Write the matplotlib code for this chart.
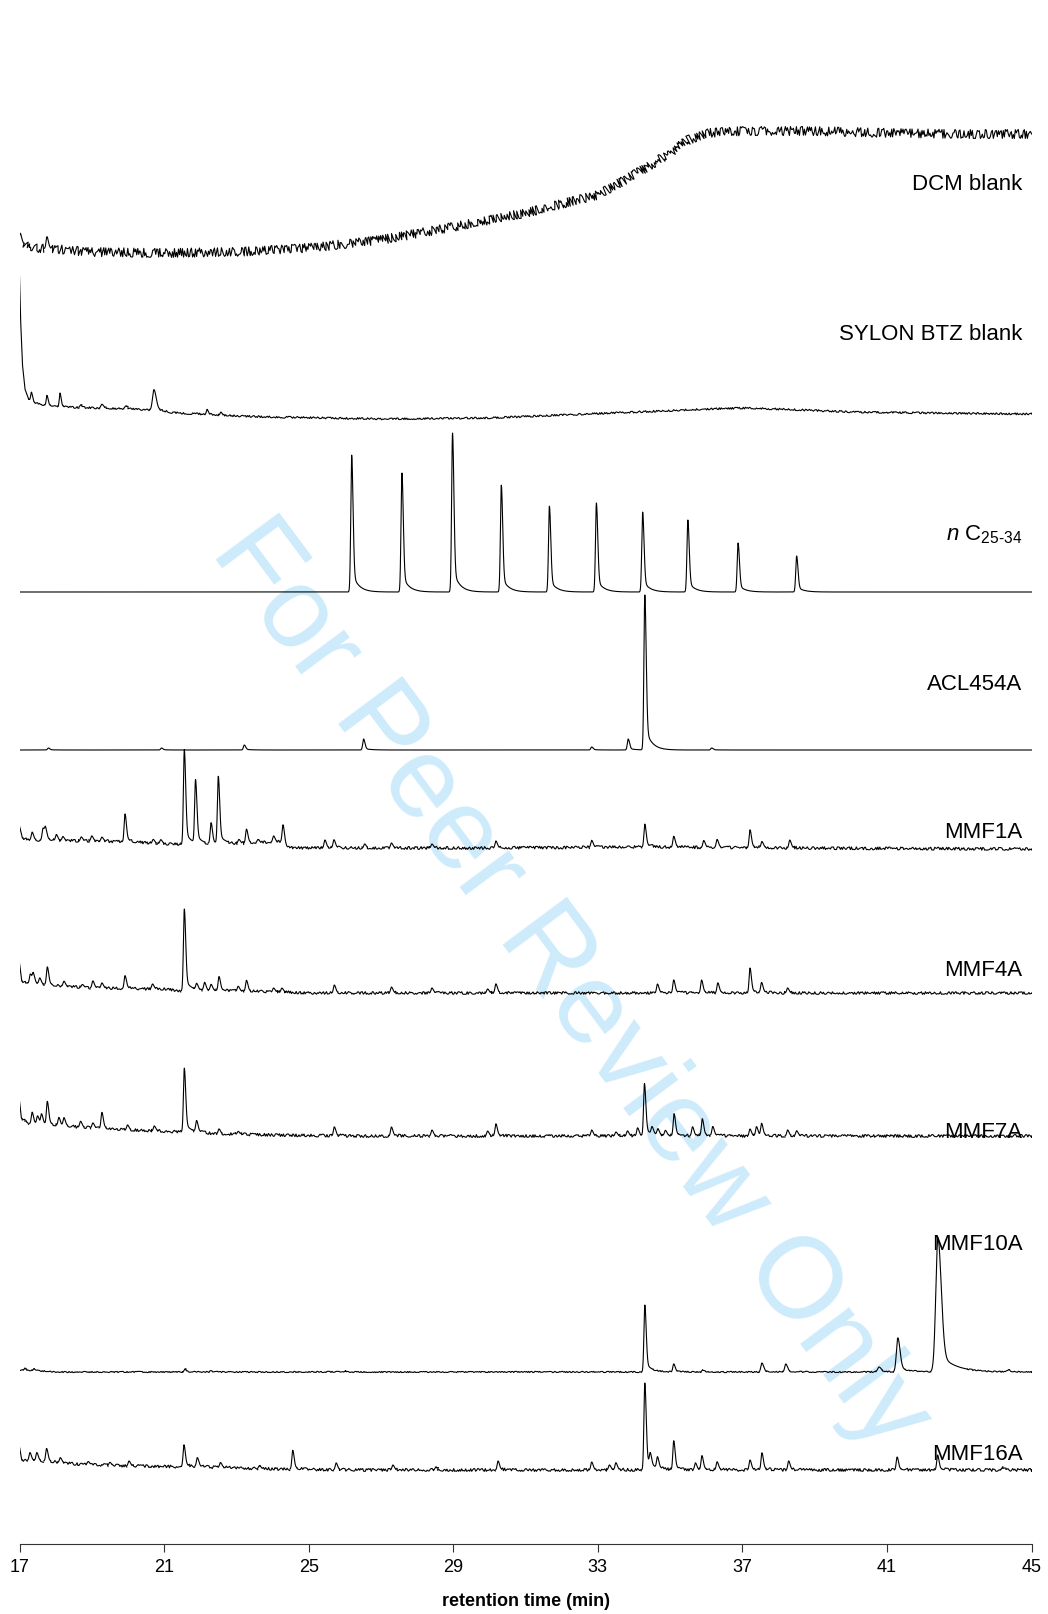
import numpy as np
import matplotlib
matplotlib.use("Agg")
import matplotlib.pyplot as plt

plt.rcParams['font.family'] = ['Liberation Sans', 'DejaVu Sans']
plt.rcParams['mathtext.fontset'] = 'custom'
plt.rcParams['mathtext.rm'] = 'Liberation Sans'
plt.rcParams['mathtext.it'] = 'Liberation Sans:italic'

# ---- data: baseline anchors (time, level) and peak tables (time, height)
# levels / heights in pixel-sized units

dcm_base_t = [17.0, 17.5, 19, 21, 23, 25, 27, 29, 31, 32, 33, 34, 35, 35.5, 36, 37, 39, 41, 43, 45]
dcm_base_y = [10, 5, 1, 0, 1, 5, 13, 26, 40, 49, 58, 78, 100, 113, 120, 122, 122, 120, 119, 119]
dcm_peak_t = [17.02, 17.76]
dcm_peak_h = [10, 12]

sylon_base_t = [17.0, 17.03, 17.08, 17.15, 17.25, 17.4, 17.7, 18, 19, 20, 20.6, 21.2, 22, 23, 24, 27, 30, 32, 34, 36, 37, 38, 40, 42, 45]
sylon_base_y = [143, 100, 55, 30, 20, 16, 14, 12, 11, 10, 9, 6, 5, 3, 2, 0, 1, 4, 7, 10, 11, 10, 7, 6, 5]
sylon_peak_t = [17.33, 17.76, 18.12, 18.7, 19.28, 19.94, 20.72, 22.19, 22.57]
sylon_peak_h = [9, 10, 14, 3, 4, 3, 21, 5, 3]
sylon_peak_w = [0.02, 0.02, 0.02, 0.03, 0.03, 0.03, 0.04, 0.02, 0.02]

nc_peak_t = [26.19, 27.58, 28.98, 30.33, 31.66, 32.96, 34.24, 35.49, 36.88, 38.50]
nc_peak_h = [137, 119, 159, 107, 86, 89, 80, 72, 49, 36]

acl_peak_t = [17.8, 20.93, 23.22, 26.52, 32.83, 33.84, 34.30, 36.15]
acl_peak_h = [2, 2, 5, 11, 3, 11, 155, 2]

mmf1_base_t = [17.0, 17.08, 17.3, 18, 19, 20, 21, 22, 23, 24, 24.3, 24.4, 27, 30, 34, 38, 45]
mmf1_base_y = [22, 10, 8, 7, 7, 6, 4, 3, 4, 6, 6, 0, 0, 0, 1, 0, -1]
mmf1_peak_t = [17.35, 17.65, 17.72, 18.02, 18.2, 18.71, 19.0, 19.28, 19.92, 20.7, 20.91,
               21.56, 21.87, 22.3, 22.5, 23.07, 23.28, 23.6, 24.03, 24.29, 25.45, 25.7,
               26.55, 27.29, 28.41, 30.18, 32.83, 34.3, 35.1, 35.93, 36.3, 37.21, 37.54, 38.31]
mmf1_peak_h = [8, 12, 11, 6, 4, 4, 5, 4, 28, 4, 4,
               95, 63, 21, 67, 4, 14, 3, 6, 17, 8, 8,
               4, 5, 4, 7, 7, 23, 11, 7, 8, 18, 6, 8]

mmf4_base_t = [17.0, 17.06, 17.3, 18, 19, 20.4, 21.0, 21.5, 22.5, 24, 25, 45]
mmf4_base_y = [30, 12, 9, 7, 5, 4, 4, 2, 2, 1, 0, 0]
mmf4_peak_t = [17.3, 17.38, 17.56, 17.77, 18.23, 18.74, 19.03, 19.28, 19.92, 20.68,
               21.56, 21.9, 22.12, 22.3, 22.52, 23.05, 23.28, 24.03, 24.26, 25.71,
               27.29, 28.41, 29.95, 30.18, 34.65, 35.1, 35.87, 36.32, 37.21, 37.53, 38.25]
mmf4_peak_h = [10, 10, 6, 18, 5, 3, 7, 5, 13, 5,
               82, 6, 8, 6, 14, 5, 11, 4, 4, 8,
               6, 5, 4, 9, 9, 13, 13, 10, 25, 10, 5]

mmf7_base_t = [17.0, 17.05, 17.3, 18, 19, 20, 21.5, 22.5, 24, 26, 45]
mmf7_base_y = [35, 18, 12, 10, 8, 6, 4, 2, 1, 0, 0]
mmf7_peak_t = [17.35, 17.5, 17.61, 17.77, 18.09, 18.23, 18.69, 19.03, 19.28, 19.99, 20.73,
               21.56, 21.9, 22.52, 23.05, 25.71, 27.29, 28.41, 29.95, 30.18,
               32.83, 33.5, 33.82, 34.1, 34.29, 34.5, 34.66, 34.87, 35.11, 35.62, 35.89,
               36.18, 37.21, 37.39, 37.53, 38.25, 38.5]
mmf7_peak_h = [12, 8, 10, 23, 8, 8, 6, 5, 16, 5, 5,
               64, 11, 5, 3, 9, 9, 6, 5, 12,
               6, 4, 5, 8, 52, 7, 6, 5, 22, 9, 17,
               9, 7, 9, 12, 6, 5]

mmf10_base_t = [17.0, 17.6, 18.0, 45]
mmf10_base_y = [2, 1, 0, 0]
mmf10_peak_t = [17.15, 17.4, 21.58, 22.3, 26.0, 34.3, 35.1, 35.9, 37.54, 38.2, 40.78, 41.3, 42.41, 44.35]
mmf10_peak_h = [2, 2, 3, 1, 1, 67, 8, 2, 9, 8, 5, 34, 134, 2]
mmf10_peak_w = [0.02, 0.02, 0.025, 0.025, 0.025, 0.025, 0.025, 0.025, 0.03, 0.03, 0.04, 0.04, 0.06, 0.04]

mmf16_base_t = [17.0, 17.06, 17.5, 18.5, 20, 22, 24, 26, 45]
mmf16_base_y = [23, 10, 9, 6, 4, 3, 1, 0, 0]
mmf16_peak_t = [17.29, 17.48, 17.75, 18.13, 18.9, 19.5, 20.03, 21.55, 21.92, 22.56, 23.64,
                24.56, 25.76, 27.33, 28.52, 30.24, 32.83, 33.32, 33.5, 34.3, 34.45,
                34.65, 35.1, 35.7, 35.88, 36.3, 37.21, 37.54, 38.28, 41.28, 42.4, 44.2]
mmf16_peak_h = [8, 8, 13, 5, 3, 3, 5, 22, 9, 5, 3,
                19, 7, 5, 3, 9, 8, 5, 7, 87, 12,
                11, 29, 7, 14, 8, 10, 17, 9, 13, 15, 3]

labels = ['DCM blank', 'SYLON BTZ blank', r'$\mathit{n}$ C$_{25\text{-}34}$', 'ACL454A',
          'MMF1A', 'MMF4A', 'MMF7A', 'MMF10A', 'MMF16A']

# ---- layout (pixel rows of each trace base, label rows, noise in px)
AX_BOTTOM = 1544
offsets = [253, 419, 592, 750, 848, 993, 1136, 1372, 1470]
label_rows = [184, 334, 535, 685, 833, 971, 1132, 1245, 1455]
noise = [4.5, 0.9, 0.0, 0.0, 1.4, 1.3, 1.4, 0.6, 1.4]

t = np.linspace(17, 45, 8001)
PX_PER_SAMPLE = 1012.0 / (len(t) - 1)


def peak(t, t0, h, s=0.025):
    """tailing peak: gaussian front, wider gaussian + exponential back"""
    d = t - t0
    front = np.exp(-0.5 * (d / s) ** 2)
    back = 0.85 * np.exp(-0.5 * (d / (1.5 * s)) ** 2) + 0.15 * np.exp(-np.clip(d, 0, None) / (7 * s))
    return h * np.where(d < 0, front, back)


def trace(base_t=None, base_y=None, pk_t=(), pk_h=(), pk_w=None):
    base = np.zeros_like(t) if base_t is None else np.interp(t, base_t, base_y)
    pk = np.zeros_like(t)
    for i, (t0, h) in enumerate(zip(pk_t, pk_h)):
        s = pk_w[i] if pk_w is not None else 0.025
        pk = pk + peak(t, t0, h, s)
    return base, pk


traces = [
    trace(dcm_base_t, dcm_base_y, dcm_peak_t, dcm_peak_h),
    trace(sylon_base_t, sylon_base_y, sylon_peak_t, sylon_peak_h, sylon_peak_w),
    trace(None, None, nc_peak_t, nc_peak_h),
    trace(None, None, acl_peak_t, acl_peak_h),
    trace(mmf1_base_t, mmf1_base_y, mmf1_peak_t, mmf1_peak_h),
    trace(mmf4_base_t, mmf4_base_y, mmf4_peak_t, mmf4_peak_h),
    trace(mmf7_base_t, mmf7_base_y, mmf7_peak_t, mmf7_peak_h),
    trace(mmf10_base_t, mmf10_base_y, mmf10_peak_t, mmf10_peak_h, mmf10_peak_w),
    trace(mmf16_base_t, mmf16_base_y, mmf16_peak_t, mmf16_peak_h),
]

W, H = 1048, 1614
fig = plt.figure(figsize=(W / 100, H / 100), dpi=100)
x0, x1 = 19.5 / W, 1031.6 / W
ax = fig.add_axes([x0, (H - AX_BOTTOM) / H, x1 - x0, AX_BOTTOM / H])
ax.patch.set_alpha(0)

# watermark
ax.text(546 / W, 1 - 1003 / H, 'For Peer Review Only', transform=fig.transFigure,
        rotation=-53.3, rotation_mode='anchor', ha='center', va='baseline',
        fontsize=83, color='#cdebfb', zorder=0)

for (base, pk), off, lab, row, nz in zip(traces, offsets, labels, label_rows, noise):
    y = (AX_BOTTOM - off) + base + pk
    if nz > 0:
        # noisy look on the flat baseline, clean strokes on peaks and steep parts
        slope = np.abs(np.gradient(y)) / PX_PER_SAMPLE
        clean = (pk > 3.0) | (slope > 1.2)
        clean = np.convolve(clean, np.ones(9), mode='same') > 0
        ln, = ax.plot(t, np.where(clean, np.nan, y), color='black', lw=0.8, zorder=2)
        ln.set_sketch_params(scale=nz, length=0.25, randomness=24)
        ax.plot(t, np.where(clean, y, np.nan), color='black', lw=0.8, zorder=2)
    else:
        ax.plot(t, y, color='black', lw=0.8, zorder=2)
    ax.text(44.75, AX_BOTTOM - row, lab, ha='right', va='center', fontsize=16, zorder=3)

ax.set_xlim(17, 45)
ax.set_ylim(0, AX_BOTTOM)
ax.set_xticks(np.arange(17, 46, 4))
ax.set_yticks([])
for side in ['left', 'right', 'top']:
    ax.spines[side].set_visible(False)
ax.spines['bottom'].set_color('#333333')
ax.tick_params(axis='x', direction='out', length=6, width=0.8, colors='#333333',
               labelcolor='black', labelsize=13, pad=5)
ax.set_xlabel('retention time (min)', fontsize=13, fontweight='bold', labelpad=12)

fig.savefig('out.png', dpi=100)
